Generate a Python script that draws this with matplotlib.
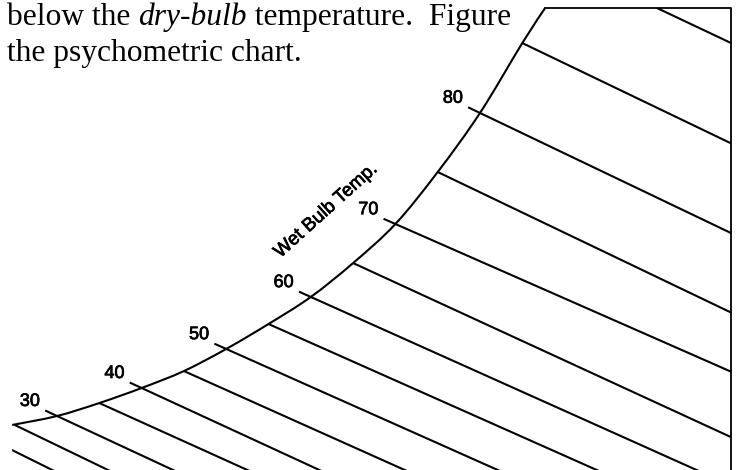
import numpy as np
import matplotlib
matplotlib.use("Agg")
import matplotlib.pyplot as plt
import matplotlib.patheffects as pe
from matplotlib.path import Path
from matplotlib.patches import PathPatch, Polygon

# saturation curve (dry-bulb F, humidity ratio lb/lb)
sat_temp = [24.7, 30, 35, 40, 45, 50, 55, 60, 65, 70, 75, 80, 85, 87.7]
sat_w = [0.00291, 0.00347, 0.00428, 0.00522, 0.00628, 0.00766, 0.00922,
         0.01091, 0.01303, 0.01547, 0.01872, 0.02241, 0.02678, 0.02897]

# wet-bulb lines: temp, humidity at saturation, dry-bulb where the line reaches W = 0
wb_temp = [20, 25, 30, 35, 40, 45, 50, 55, 60, 65, 70, 75, 80, 85, 90]
wb_w_start = [0.00257, 0.00291, 0.00347, 0.00428, 0.00522, 0.00628, 0.00766, 0.00922,
              0.01091, 0.01303, 0.01547, 0.01872, 0.02241, 0.02678, 0.0317]
wb_t_end = [29.8, 36.4, 44.1, 52.9, 61.4, 71.5, 82.5, 94.2,
            106.0, 118.5, 136.5, 148.9, 168.6, 190.4, 216.8]
wb_labels = [30, 40, 50, 60, 70, 80]

# chart fragment limits
T_MIN, T_MAX = 24.7, 109.7
W_MAX = 0.02897

LW = 1.5
SANS = ['Liberation Sans', 'DejaVu Sans']
SERIF = ['Liberation Serif', 'DejaVu Serif']
# scanned print looks a bit heavier than a clean render
INK = [pe.withStroke(linewidth=0.5, foreground='black')]


def smooth_path(xs, ys):
    # catmull-rom through the read points, drawn as bezier segments
    pts = np.column_stack([xs, ys])
    verts = [pts[0]]
    codes = [Path.MOVETO]
    n = len(pts)
    for i in range(n - 1):
        p0 = pts[i - 1] if i > 0 else pts[i]
        p1, p2 = pts[i], pts[i + 1]
        p3 = pts[i + 2] if i + 2 < n else pts[i + 1]
        verts += [p1 + (p2 - p0) / 6, p2 - (p3 - p1) / 6, p2]
        codes += [Path.CURVE4] * 3
    return Path(verts, codes)


fig = plt.figure(figsize=(7.37, 4.70), dpi=100)
ax = fig.add_axes([0, 0, 1, 1])
ax.set_xlim(23.26, 110.38)
ax.set_ylim(0.000095, 0.02947)
ax.axis('off')

# region of the chart, used to clip the wet-bulb lines
region = list(zip(sat_temp, sat_w)) + [(T_MAX, W_MAX), (T_MAX, -0.01), (T_MIN, -0.01)]
clip = Polygon(region, closed=True, transform=ax.transData, fill=False, edgecolor='none')
ax.add_patch(clip)

for t, w0, t1 in zip(wb_temp, wb_w_start, wb_t_end):
    ln, = ax.plot([t, t1], [w0, 0], color='black', lw=LW, solid_capstyle='butt')
    ln.set_clip_path(clip)
    if t in wb_labels:
        slope = w0 / (t1 - t)
        tx, tw = t - 1.4, w0 + 1.4 * slope
        ax.plot([tx, t], [tw, w0], color='black', lw=LW, solid_capstyle='butt')
        ax.annotate(str(t), (tx, tw), xytext=(-11, 6.5), textcoords='offset points',
                    ha='center', va='center', fontsize=13, family=SANS, path_effects=INK)

# saturation curve and border
ax.add_patch(PathPatch(smooth_path(sat_temp, sat_w), fill=False, lw=LW, edgecolor='black'))
ax.plot([sat_temp[-1], T_MAX, T_MAX], [W_MAX, W_MAX, -0.01], color='black', lw=1.3)

ax.text(61.8, 0.01628, 'Wet Bulb Temp.', rotation=42, rotation_mode='anchor',
        ha='center', va='center', fontsize=13.5, family=SANS, path_effects=INK)

# surrounding text from the page
fs = 22.7
renderer = fig.canvas.get_renderer()
x = 7 / 737
y1 = 1 - 25 / 470
for part, style in [('below the ', 'normal'), ('dry-bulb', 'italic'), (' temperature.  Figure', 'normal')]:
    t = fig.text(x, y1, part, fontsize=fs, family=SERIF, style=style, va='baseline', ha='left')
    bb = t.get_window_extent(renderer)
    x = bb.x1 / fig.bbox.width
fig.text(7 / 737, 1 - 61 / 470, 'the psychometric chart.', fontsize=fs, family=SERIF,
         va='baseline', ha='left')

fig.savefig('out.png', dpi=100)
